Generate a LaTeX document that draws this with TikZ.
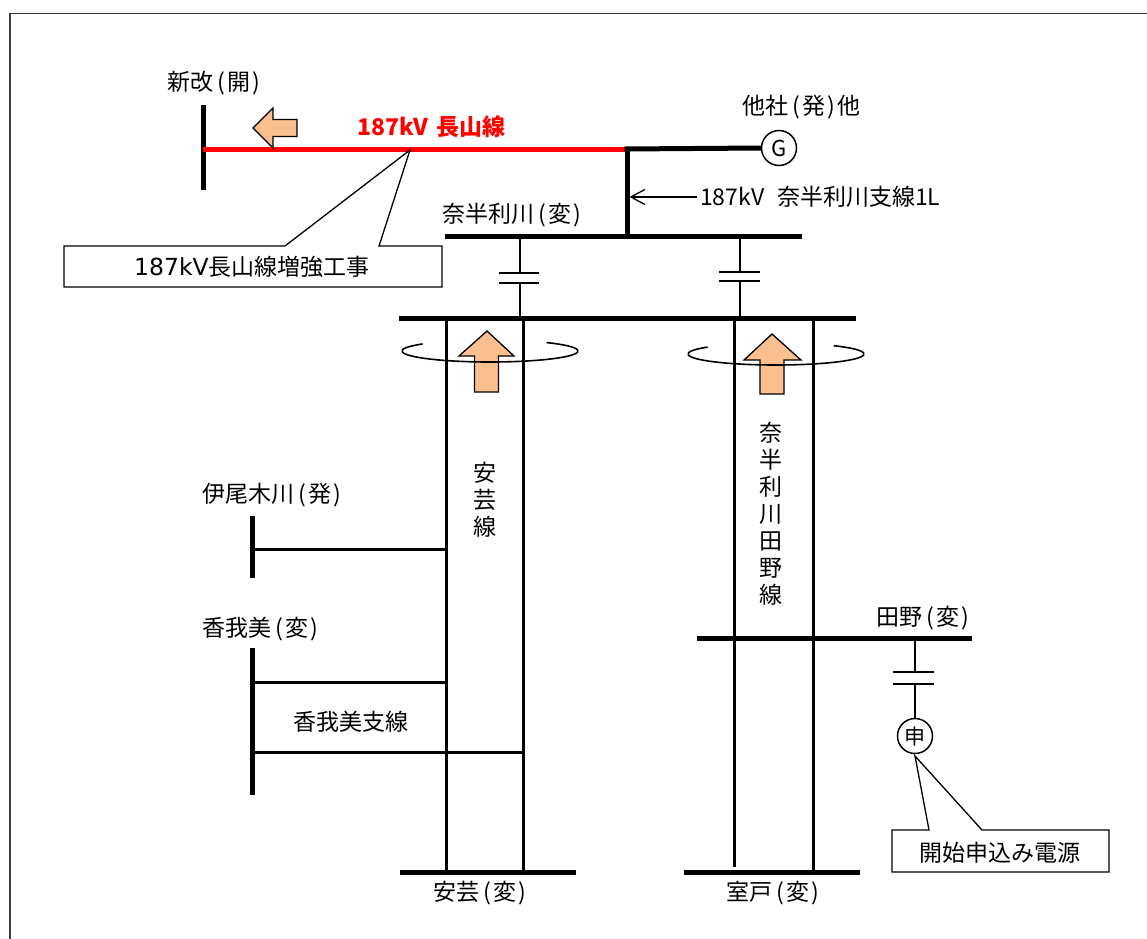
\documentclass[tikz,border=0pt]{standalone}
\usepackage{fontspec}
\setmainfont{Noto Sans CJK JP}
\newfontfamily\latwide{DejaVu Sans}
\usetikzlibrary{arrows.meta}
\definecolor{arrowfill}{RGB}{250,191,143}
\definecolor{framegray}{RGB}{60,60,60}
\newcommand\lpar{\kern4.5pt(\kern2pt}
\newcommand\rpar{\kern2.5pt)\kern2pt}
\tikzset{
  bus/.style={line width=5pt},
  feeder/.style={line width=3pt},
  capline/.style={line width=1.7pt},
  lbl/.style={inner sep=0pt, font=\fontsize{23}{27}\selectfont},
  vlbl/.style={inner sep=0pt, align=center, font=\fontsize{23}{27}\selectfont},
  flow/.style={fill=arrowfill, draw=black, line width=1.3pt, line join=miter},
  loop/.style={line width=1.6pt},
  callout/.style={draw=black, line width=1.3pt, fill=white, line join=miter},
  machine/.style={circle, draw=black, line width=1.5pt, minimum size=35pt, inner sep=0pt, fill=white, font=\fontsize{22}{22}\selectfont}
}
\begin{document}
\begin{tikzpicture}[x=1pt,y=-1pt]
\useasboundingbox (0,0) rectangle (1147,938);
\fill[white] (0,0) rectangle (1147,938);
% frame
\draw[line width=1.6pt, framegray] (10,960) -- (10,13.5) -- (1170,13.5);

% ---------- top section ----------
\coordinate (shinkaiT) at (203,105);
\coordinate (shinkaiB) at (203,190);
\coordinate (redW) at (203,149);
\coordinate (junc) at (627,149);
\coordinate (naharibusW) at (445,236);
\coordinate (naharibusE) at (802,236);
\coordinate (juncB) at (627,236);

\node[machine] (G) at (779,148) {G};
\draw[bus] (shinkaiT) -- (shinkaiB);
\draw[bus, red] (redW) -- (junc);
\draw[bus] ([xshift=-2.5pt]junc) -- (G.west);
\draw[bus] ([yshift=2.5pt]junc) -- (juncB);
\draw[bus] (naharibusW) -- (naharibusE);

% labels top
\node[lbl, anchor=west] (lShinkai) at (167,83) {新改\lpar 開\rpar};
\node[lbl, anchor=west, text=red, font=\fontsize{23}{27}\selectfont\bfseries] (lNagayama) at (357,127) {187kV\hspace{0.35em}長山線};
\node[lbl, anchor=west] (lTasha) at (742,107) {他社\lpar 発\rpar 他};
\node[lbl, anchor=west] (lShisen) at (700,197) {187kV\hspace{0.55em}奈半利川支線1L};
\coordinate (shisenTip) at (629.5,197);
\draw[line width=1.3pt, -{Straight Barb[length=14pt,width=15pt]}] (lShisen.west) ++(-3,0) -- (shisenTip);
\node[lbl, anchor=west] (lNahari) at (442,215) {奈半利川\lpar 変\rpar};

% left-pointing flow arrow
\draw[flow] (253,128) -- (273,108) -- (273,119.5) -- (297,119.5) -- (297,136.5) -- (273,136.5) -- (273,148) -- cycle;

% callout 1
\coordinate (call1) at (410,150);
\draw[callout] (64,246) -- (285,246) -- (call1) -- (379,246) -- (442,246) -- (442,287) -- (64,287) -- cycle;
\node[lbl] (lKyoka) at (252,267) {{\latwide\fontsize{23.5}{27}\selectfont 187kV}長山線増強工事};

% ---------- capacitors between buses ----------
\coordinate (capLtop) at (520,236);
\coordinate (capLbot) at (520,318);
\draw[capline] (capLtop) -- (520,273);
\draw[capline] (499,273) -- (539,273);
\draw[capline] (499,283) -- (539,283);
\draw[capline] (520,283) -- (capLbot);

\coordinate (capRtop) at (740,236);
\coordinate (capRbot) at (740,318);
\draw[capline] (capRtop) -- (740,272);
\draw[capline] (719,272) -- (760,272);
\draw[capline] (719,281) -- (760,281);
\draw[capline] (740,281) -- (capRbot);

% lower bus
\coordinate (lowbusW) at (399,318);
\coordinate (lowbusE) at (856,318);
\draw[bus] (lowbusW) -- (lowbusE);

% ---------- Aki line ----------
\coordinate (akiA1) at (446,318);
\coordinate (akiA2) at (446,872);
\coordinate (akiB1) at (523,318);
\coordinate (akiB2) at (523,872);
\draw[feeder] (akiA1) -- (akiA2);
\draw[feeder] (akiB1) -- (akiB2);

% ---------- Nahari-Tano line ----------
\coordinate (ntA1) at (734,318);
\coordinate (ntA2) at (734,867);
\coordinate (ntB1) at (813,318);
\coordinate (ntB2) at (813,872);
\draw[feeder] (ntA1) -- (ntA2);
\draw[feeder] (ntB1) -- (ntB2);

% upward flow arrows
\draw[flow] (487,331) -- (514,356) -- (498.5,356) -- (498.5,392) -- (474.5,392) -- (474.5,356) -- (459,356) -- cycle;
\draw[flow] (772,334) -- (801,360) -- (784,360) -- (784,394) -- (760,394) -- (760,360) -- (744,360) -- cycle;

% current-transformer loops (open at top)
\coordinate (loopL) at (490,351);
\coordinate (loopR) at (776,354);
\draw[loop] (loopL) ++(140:88pt and 11pt) arc[start angle=140, end angle=410, x radius=88pt, y radius=11pt];
\draw[loop] (loopR) ++(141:88pt and 11pt) arc[start angle=141, end angle=409, x radius=88pt, y radius=11pt];

\node[vlbl] (lAkisen) at (485,500) {安\\芸\\線};
\node[vlbl] (lNTsen) at (771,514) {奈\\半\\利\\川\\田\\野\\線};

% ---------- Ioki & Kagami ----------
\node[lbl, anchor=west] (lIoki) at (202,495) {伊尾木川\lpar 発\rpar};
\coordinate (iokiT) at (252,516);
\coordinate (iokiB) at (252,578);
\draw[bus] (iokiT) -- (iokiB);
\coordinate (iokiJ) at (252,549);
\draw[feeder] (iokiJ) -- (akiA1 |- iokiJ);

\node[lbl, anchor=west] (lKagami) at (202,629) {香我美\lpar 変\rpar};
\coordinate (kagamiT) at (252,648);
\coordinate (kagamiB) at (252,795);
\draw[bus] (kagamiT) -- (kagamiB);
\coordinate (kagJ1) at (252,682);
\coordinate (kagJ2) at (252,752);
\draw[feeder] (kagJ1) -- (akiA1 |- kagJ1);
\draw[feeder] (kagJ2) -- (akiB1 |- kagJ2);
\node[lbl] (lKagamisen) at (351,722) {香我美支線};

% ---------- Tano ----------
\coordinate (tanoW) at (697,638);
\coordinate (tanoE) at (972,638);
\draw[bus] (tanoW) -- (tanoE);
\node[lbl, anchor=west] (lTano) at (876,618) {田野\lpar 変\rpar};
\node[machine, font=\fontsize{21}{21}\selectfont] (Mo) at (915,736) {申};
\coordinate (capTtop) at (915,638);
\draw[capline] (capTtop) -- (915,672);
\draw[capline] (893,672) -- (934,672);
\draw[capline] (893,684) -- (934,684);
\draw[capline] (915,684) -- (Mo.north);

% callout 2
\coordinate (call2) at (915,756);
\draw[callout] (892,830) -- (929,830) -- (call2) -- (982,830) -- (1109,830) -- (1109,872) -- (892,872) -- cycle;
\node[lbl] (lMoshikomi) at (1000,853) {開始申込み電源};

% ---------- bottom substations ----------
\coordinate (akiBusW) at (400,872);
\coordinate (akiBusE) at (576,872);
\draw[bus] (akiBusW) -- (akiBusE);
\node[lbl, anchor=west] (lAki) at (433,893) {安芸\lpar 変\rpar};
\coordinate (murBusW) at (684,872);
\coordinate (murBusE) at (860,872);
\draw[bus] (murBusW) -- (murBusE);
\node[lbl, anchor=west] (lMuroto) at (726,893) {室戸\lpar 変\rpar};
\end{tikzpicture}
\end{document}
